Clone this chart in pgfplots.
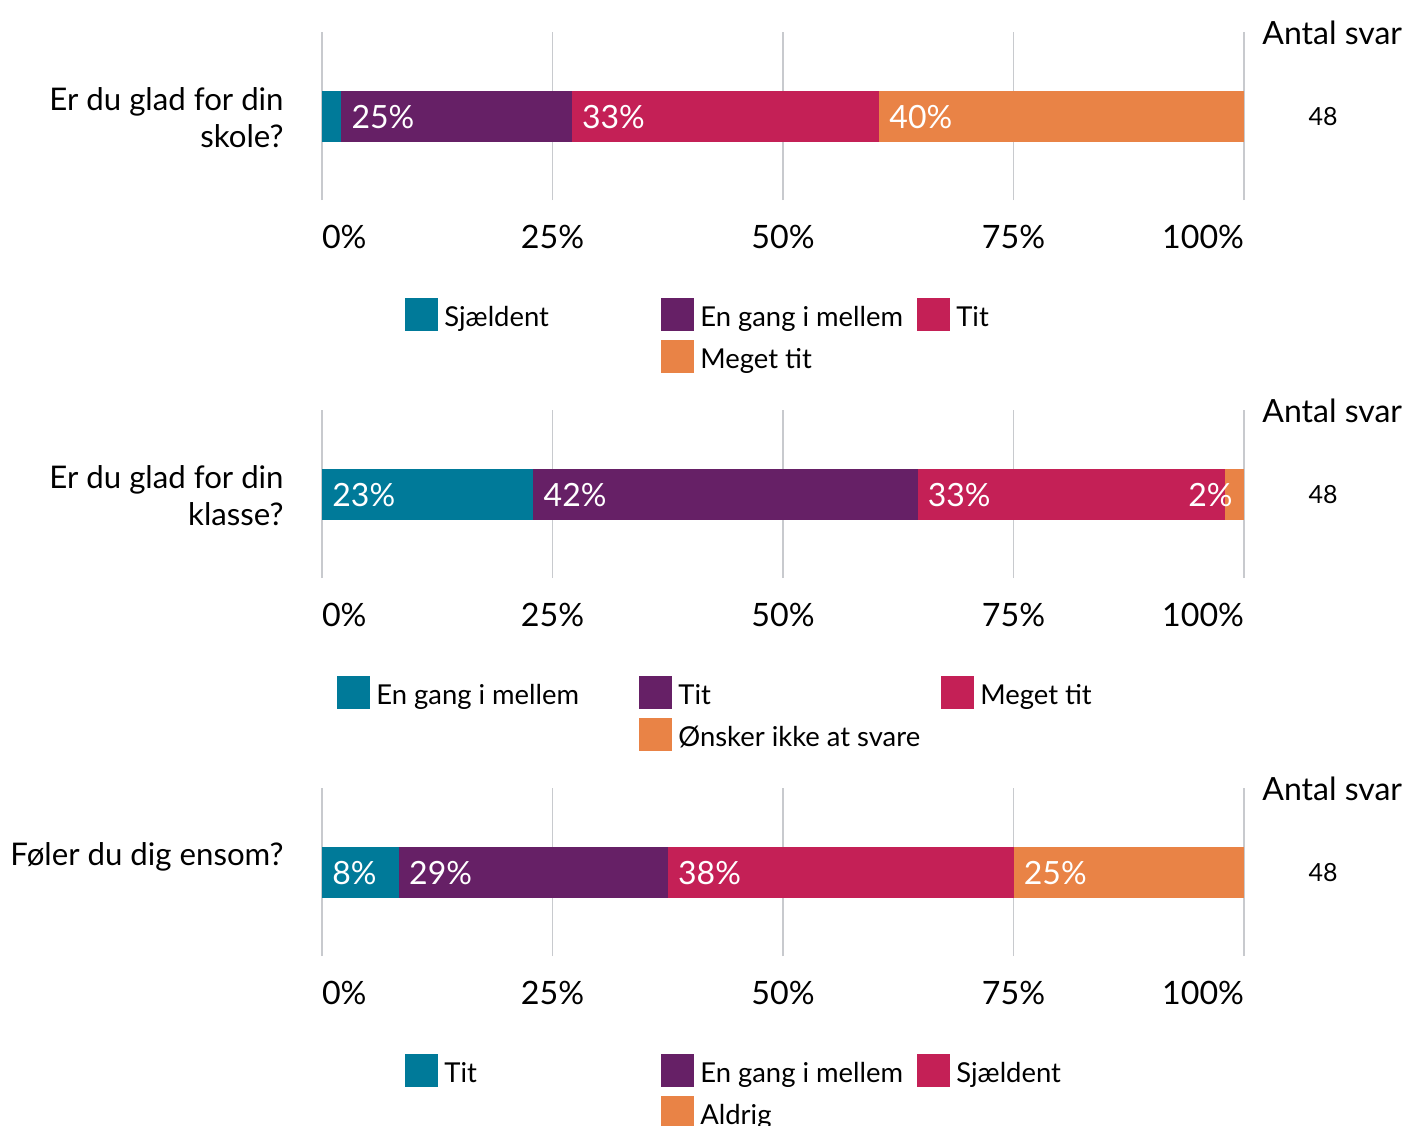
\documentclass[border=0pt]{standalone}
\usepackage{fontspec}
\setmainfont{Lato}
\usepackage{pgfplots}
\pgfplotsset{compat=1.18}
\definecolor{cteal}{RGB}{0,122,153}
\definecolor{cpurple}{RGB}{102,32,102}
\definecolor{ccrimson}{RGB}{196,32,86}
\definecolor{corange}{RGB}{233,131,70}
\definecolor{gridgray}{RGB}{200,202,206}
\newcommand{\lfont}{\fontsize{13.7}{16.5}\selectfont}
\newcommand{\bfont}{\fontsize{16}{19}\selectfont}
\newcommand{\yfont}{\fontsize{15.6}{18.5}\selectfont}
\newcommand{\afont}{\fontsize{16}{19}\selectfont}
\pgfplotsset{
 panel/.style={
  xbar stacked, width=461pt, height=84pt, scale only axis,
  xmin=0, xmax=100, ymin=-1, ymax=1,
  bar width=25.5pt,
  axis line style={draw=none},
  tick style={draw=none},
  xtick={0,25,50,75,100},
  xticklabels={\makebox[0pt][l]{0\%},25\%,50\%,75\%,\makebox[0pt][r]{100\%}},
  xticklabel style={anchor=base, yshift=-24.2pt, font=\fontsize{16.1}{19}\selectfont, inner sep=0pt},
  xmajorgrids, major grid style={draw=gridgray, line width=0.75pt},
  ytick=\empty,
  clip=false,
  legend columns=3,
  legend style={draw=none, fill=none, inner sep=0pt, anchor=north west,
    cells={anchor=base west},
    nodes={inner xsep=3pt, inner ysep=0pt, font=\lfont},
    /tikz/every even column/.style={column sep=0pt},
    /tikz/row sep=4.5pt},
  legend image code/.code={\fill[##1] (0pt,-2.25pt) rectangle (16.5pt,14.25pt);},
 },
}
\tikzset{blabel/.style={text=white, font=\bfont, inner sep=0pt, anchor=base west, xshift=5pt, yshift=-6pt}}
\begin{document}
\begin{tikzpicture}
\path[use as bounding box] (0,0) rectangle (702.5pt,-563pt);
% ---------- Panel 1 ----------
\begin{axis}[panel, at={(161pt,-100pt)}, anchor=south west,
  legend style={at={(0.0900,-0.5833)}}]
\addplot[fill=cteal, draw=none] coordinates {(2.08,0)};
\addlegendentry{\makebox[105.5pt][l]{Sjældent}}
\addplot[fill=cpurple, draw=none] coordinates {(25.00,0)};
\addlegendentry{\makebox[105.5pt][l]{En gang i mellem}}
\addplot[fill=ccrimson, draw=none] coordinates {(33.33,0)};
\addlegendentry{\makebox[105.5pt][l]{Tit}}
\addlegendimage{empty legend}
\addlegendentry{}
\addplot[fill=corange, draw=none] coordinates {(39.58,0)};
\addlegendentry{Meget tit}
\coordinate (a1) at (axis cs:2.08,0);
\coordinate (a2) at (axis cs:27.08,0);
\coordinate (a3) at (axis cs:60.42,0);
\end{axis}
\node[blabel] at (a1) {25\%};
\node[blabel] at (a2) {33\%};
\node[blabel] at (a3) {40\%};
\node[font=\yfont, anchor=base east, inner sep=0pt] at (142pt,-55pt) {Er du glad for din};
\node[font=\yfont, anchor=base east, inner sep=0pt] at (142pt,-73.5pt) {skole?};
\node[font=\afont, anchor=base west, inner sep=0pt] at (631pt,-22pt) {Antal svar};
\node[font=\fontsize{12.5}{15}\selectfont, anchor=base, inner sep=0pt] at (661.5pt,-62.5pt) {48};
% ---------- Panel 2 ----------
\begin{axis}[panel, at={(161pt,-289pt)}, anchor=south west,
  legend style={at={(0.01627,-0.5833)}}]
\addplot[fill=cteal, draw=none] coordinates {(22.92,0)};
\addlegendentry{\makebox[128.5pt][l]{En gang i mellem}}
\addplot[fill=cpurple, draw=none] coordinates {(41.67,0)};
\addlegendentry{\makebox[128.5pt][l]{Tit}}
\addplot[fill=ccrimson, draw=none] coordinates {(33.33,0)};
\addlegendentry{\makebox[128.5pt][l]{Meget tit}}
\addlegendimage{empty legend}
\addlegendentry{}
\addplot[fill=corange, draw=none] coordinates {(2.08,0)};
\addlegendentry{Ønsker ikke at svare}
\coordinate (b1) at (axis cs:0,0);
\coordinate (b2) at (axis cs:22.92,0);
\coordinate (b3) at (axis cs:64.58,0);
\coordinate (b4) at (axis cs:100,0);
\end{axis}
\node[blabel] at (b1) {23\%};
\node[blabel] at (b2) {42\%};
\node[blabel] at (b3) {33\%};
\node[blabel, anchor=base east, xshift=-10.5pt] at (b4) {2\%};
\node[font=\yfont, anchor=base east, inner sep=0pt] at (142pt,-244pt) {Er du glad for din};
\node[font=\yfont, anchor=base east, inner sep=0pt] at (142pt,-262.5pt) {klasse?};
\node[font=\afont, anchor=base west, inner sep=0pt] at (631pt,-211pt) {Antal svar};
\node[font=\fontsize{12.5}{15}\selectfont, anchor=base, inner sep=0pt] at (661.5pt,-251.5pt) {48};
% ---------- Panel 3 ----------
\begin{axis}[panel, at={(161pt,-478pt)}, anchor=south west,
  legend style={at={(0.0900,-0.5833)}}]
\addplot[fill=cteal, draw=none] coordinates {(8.33,0)};
\addlegendentry{\makebox[105.5pt][l]{Tit}}
\addplot[fill=cpurple, draw=none] coordinates {(29.17,0)};
\addlegendentry{\makebox[105.5pt][l]{En gang i mellem}}
\addplot[fill=ccrimson, draw=none] coordinates {(37.50,0)};
\addlegendentry{\makebox[105.5pt][l]{Sjældent}}
\addlegendimage{empty legend}
\addlegendentry{}
\addplot[fill=corange, draw=none] coordinates {(25.00,0)};
\addlegendentry{Aldrig}
\coordinate (c1) at (axis cs:0,0);
\coordinate (c2) at (axis cs:8.33,0);
\coordinate (c3) at (axis cs:37.50,0);
\coordinate (c4) at (axis cs:75.00,0);
\end{axis}
\node[blabel] at (c1) {8\%};
\node[blabel] at (c2) {29\%};
\node[blabel] at (c3) {38\%};
\node[blabel] at (c4) {25\%};
\node[font=\yfont, anchor=base east, inner sep=0pt] at (142pt,-432.5pt) {Føler du dig ensom?};
\node[font=\afont, anchor=base west, inner sep=0pt] at (631pt,-400pt) {Antal svar};
\node[font=\fontsize{12.5}{15}\selectfont, anchor=base, inner sep=0pt] at (661.5pt,-440.5pt) {48};
\end{tikzpicture}
\end{document}
